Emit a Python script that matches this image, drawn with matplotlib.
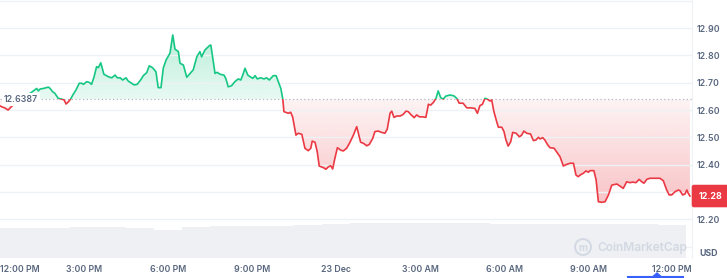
import numpy as np
import matplotlib
matplotlib.use('Agg')
from matplotlib import pyplot as plt
from matplotlib.path import Path
from matplotlib.patches import Rectangle, Ellipse, Polygon
from matplotlib.lines import Line2D
from matplotlib.colors import to_rgb

plt.rcParams['font.family'] = ['Inter', 'DejaVu Sans']

# hours since 12:00 PM, 22 Dec
hours = [0.00, 0.06, 0.18, 0.29, 0.50, 0.71, 0.93, 1.14, 1.31, 1.37, 1.43, 1.55, 1.73, 1.79,
         1.88, 1.96, 2.08, 2.20, 2.29, 2.36, 2.44, 2.52, 2.60, 2.71, 2.83, 2.92, 2.98, 3.10,
         3.19, 3.27, 3.36, 3.45, 3.51, 3.60, 3.67, 3.71, 3.87, 3.99, 4.11, 4.19, 4.29, 4.38,
         4.50, 4.58, 4.70, 4.79, 4.90, 5.02, 5.12, 5.24, 5.33, 5.45, 5.57, 5.65, 5.75, 5.83,
         5.93, 6.07, 6.17, 6.25, 6.37, 6.43, 6.55, 6.67, 6.79, 6.90, 7.03, 7.14, 7.20, 7.32,
         7.48, 7.53, 7.62, 7.68, 7.76, 7.86, 8.00, 8.07, 8.15, 8.27, 8.39, 8.51, 8.60, 8.67,
         8.75, 8.85, 8.93, 9.03, 9.11, 9.19, 9.31, 9.43, 9.52, 9.62, 9.76, 9.86, 9.94, 10.03,
         10.10, 10.14, 10.30, 10.38, 10.45, 10.57, 10.65, 10.78, 10.89, 11.01, 11.10, 11.15,
         11.25, 11.33, 11.40, 11.55, 11.64, 11.73, 11.81, 11.88, 11.96, 12.05, 12.17, 12.26,
         12.38, 12.50, 12.62, 12.74, 12.80, 12.88, 12.98, 13.10, 13.19, 13.31, 13.39, 13.51,
         13.63, 13.75, 13.83, 13.93, 13.99, 14.07, 14.17, 14.29, 14.40, 14.50, 14.58, 14.67,
         14.79, 14.88, 14.98, 15.10, 15.21, 15.30, 15.38, 15.48, 15.57, 15.65, 15.74, 15.83,
         15.92, 16.07, 16.21, 16.31, 16.40, 16.54, 16.67, 16.81, 16.96, 17.05, 17.14, 17.23,
         17.32, 17.40, 17.50, 17.56, 17.64, 17.74, 17.80, 17.92, 18.00, 18.07, 18.15, 18.24,
         18.31, 18.43, 18.55, 18.63, 18.71, 18.81, 18.95, 19.05, 19.14, 19.23, 19.29, 19.38,
         19.46, 19.55, 19.64, 19.79, 19.88, 20.00, 20.12, 20.24, 20.36, 20.48, 20.57, 20.65,
         20.75, 20.83, 20.93, 21.01, 21.07, 21.21, 21.29, 21.37, 21.49, 21.61, 21.73, 21.85,
         22.03, 22.17, 22.26, 22.38, 22.50, 22.60, 22.71, 22.83, 22.92, 23.00, 23.10, 23.21,
         23.39, 23.57, 23.69, 23.81, 23.90, 23.99, 24.11, 24.23, 24.29, 24.38, 24.46, 24.53,
         24.58, 24.64]
price = [12.615, 12.612, 12.607, 12.600, 12.622, 12.637, 12.651, 12.666, 12.679, 12.670, 12.677,
         12.679, 12.684, 12.679, 12.667, 12.661, 12.643, 12.640, 12.637, 12.622, 12.630, 12.640,
         12.655, 12.673, 12.698, 12.698, 12.694, 12.704, 12.701, 12.694, 12.722, 12.759, 12.755,
         12.773, 12.747, 12.731, 12.722, 12.718, 12.728, 12.718, 12.718, 12.710, 12.718, 12.706,
         12.698, 12.692, 12.694, 12.710, 12.726, 12.737, 12.762, 12.755, 12.740, 12.682, 12.682,
         12.753, 12.783, 12.808, 12.875, 12.823, 12.814, 12.771, 12.765, 12.720, 12.734, 12.747,
         12.795, 12.814, 12.795, 12.820, 12.836, 12.838, 12.777, 12.734, 12.738, 12.731, 12.728,
         12.714, 12.685, 12.689, 12.704, 12.714, 12.710, 12.728, 12.753, 12.728, 12.722, 12.716,
         12.726, 12.714, 12.718, 12.714, 12.718, 12.710, 12.726, 12.726, 12.704, 12.679, 12.640,
         12.594, 12.588, 12.592, 12.575, 12.508, 12.515, 12.511, 12.460, 12.451, 12.460, 12.486,
         12.482, 12.447, 12.395, 12.389, 12.383, 12.392, 12.396, 12.384, 12.423, 12.462, 12.453,
         12.450, 12.460, 12.482, 12.508, 12.539, 12.515, 12.482, 12.478, 12.469, 12.474, 12.496,
         12.521, 12.523, 12.518, 12.515, 12.530, 12.588, 12.596, 12.573, 12.578, 12.578, 12.584,
         12.596, 12.594, 12.584, 12.572, 12.582, 12.575, 12.575, 12.573, 12.621, 12.618, 12.628,
         12.643, 12.670, 12.645, 12.640, 12.651, 12.655, 12.652, 12.643, 12.625, 12.625, 12.608,
         12.608, 12.606, 12.588, 12.616, 12.621, 12.643, 12.640, 12.633, 12.637, 12.594, 12.557,
         12.537, 12.537, 12.521, 12.490, 12.468, 12.484, 12.518, 12.515, 12.502, 12.508, 12.523,
         12.515, 12.512, 12.488, 12.490, 12.500, 12.494, 12.499, 12.490, 12.474, 12.462, 12.460,
         12.447, 12.429, 12.395, 12.401, 12.405, 12.405, 12.362, 12.356, 12.364, 12.368, 12.377,
         12.372, 12.378, 12.378, 12.344, 12.264, 12.262, 12.264, 12.289, 12.325, 12.329, 12.319,
         12.313, 12.337, 12.334, 12.336, 12.334, 12.346, 12.337, 12.332, 12.346, 12.350, 12.350,
         12.350, 12.341, 12.307, 12.289, 12.289, 12.301, 12.307, 12.304, 12.289, 12.292, 12.307,
         12.295, 12.285]

vol_hours = list(range(25))
volume = [30, 30, 30.5, 31, 31, 30, 28.5, 31, 32, 32.5, 32.5, 33, 34, 35, 35, 35.5, 35.5,
          35, 34.5, 34.5, 34.5, 34, 34, 34, 33]

base_price = 12.6387
last_price = 12.28
tick_hours = [0, 3, 6, 9, 12, 15, 18, 21, 24]
tick_labels = ['12:00 PM', '3:00 PM', '6:00 PM', '9:00 PM', '23 Dec',
               '3:00 AM', '6:00 AM', '9:00 AM', '12:00 PM']
y_grid = [12.1, 12.2, 12.3, 12.4, 12.5, 12.6, 12.7, 12.8, 12.9, 13.0]
y_labels = ['', '12.20', '', '12.40', '12.50', '12.60', '12.70', '12.80', '12.90', '']

GREEN = '#16c784'
RED = '#ea3943'
GREY = '#58667e'
XMAX = 692 / 28
YMIN, YMAX = 12.058, 13.003

fig = plt.figure(figsize=(7.27, 2.78), dpi=100)
ax = fig.add_axes([0, 20 / 278, 692 / 727, 258 / 278])

# volume on a twin axis (drawn above the price grid, below nothing else)
ax2 = ax.twinx()
ax2.bar(vol_hours, volume, width=1.0, color='#eef0f4', edgecolor='none', zorder=1)
ax2.set_ylim(0, 258)
ax2.set_yticks([])
for s in ax2.spines.values():
    s.set_visible(False)

ax.set_xlim(0, XMAX)
ax.set_ylim(YMIN, YMAX)

t = np.array(hours)
p = np.array(price)


def gradient_fill(where, color, y0, y1, a0, a1):
    # fill between line and base price with a vertical alpha gradient
    coll = ax.fill_between(t, p, base_price, where=where, interpolate=True,
                           facecolor='none', edgecolor='none')
    clip = Path.make_compound_path(*coll.get_paths())
    img = np.zeros((256, 1, 4))
    img[:, 0, :3] = to_rgb(color)
    img[:, 0, 3] = np.linspace(a0, a1, 256)
    im = ax.imshow(img, extent=[0, XMAX, y0, y1], origin='lower', aspect='auto',
                   interpolation='bilinear', zorder=1)
    im.set_clip_path(clip, transform=ax.transData)


gradient_fill(p >= base_price, GREEN, base_price, 12.88, 0.10, 0.30)
gradient_fill(p <= base_price, RED, 12.26, base_price, 0.30, 0.06)
ax.set_xlim(0, XMAX)
ax.set_ylim(YMIN, YMAX)

gl, = ax.plot(t, p, color=GREEN, lw=1.2, zorder=3, solid_joinstyle='round')
gl.set_clip_path(Rectangle((0, base_price), XMAX, 2, transform=ax.transData))
rl, = ax.plot(t, p, color=RED, lw=1.2, zorder=3, solid_joinstyle='round')
rl.set_clip_path(Rectangle((0, 11), XMAX, base_price - 11, transform=ax.transData))

ax.axhline(base_price, color='#b1b8c6', ls=(0, (1, 2)), lw=0.9, zorder=2)
ax.text(4 / 692, base_price, '12.6387', transform=ax.get_yaxis_transform(),
        ha='left', va='center', fontsize=6.3, color=GREY, fontweight='semibold', zorder=4,
        bbox=dict(facecolor='white', edgecolor='none', pad=1.2))

ax.set_yticks(y_grid)
ax.set_yticklabels(y_labels)
ax.yaxis.tick_right()
ax.tick_params(axis='y', length=0, pad=3, labelsize=6.3, labelcolor=GREY,
               labelleft=False, labelright=True)
for lab in ax.yaxis.get_ticklabels(which='major'):
    lab.set_fontweight('semibold')
for tk in ax.yaxis.get_major_ticks():
    tk.label2.set_fontweight('semibold')
ax.grid(axis='y', color='#eff2f5', lw=1)
ax.set_xticks(tick_hours)
ax.set_xticklabels(tick_labels)
ax.tick_params(axis='x', length=0, pad=5, labelsize=6.3, labelcolor=GREY)
for lab in ax.get_xticklabels():
    lab.set_fontweight('semibold')
ax.get_xticklabels()[0].set_horizontalalignment('left')
for s in ['top', 'left', 'bottom']:
    ax.spines[s].set_visible(False)
ax.spines['right'].set_color('#eff2f5')

ax.text(1.0265, 12.285, '12.28', transform=ax.get_yaxis_transform(), ha='center', va='center',
        fontsize=6.5, color='white', fontweight='bold', zorder=5, clip_on=False,
        bbox=dict(boxstyle='round,pad=0.75,rounding_size=0.25', facecolor=RED, edgecolor='none'))
ax.text(1.0245, 5 / 258, 'USD', transform=ax.transAxes, ha='center', va='center',
        fontsize=6.3, color=GREY, fontweight='bold')

# watermark
fig.add_artist(Ellipse((583 / 727, 1 - 247 / 278), 16 / 727, 16 / 278, transform=fig.transFigure,
                       facecolor='none', edgecolor='#d3d9e3', lw=1.4))
fig.text(583 / 727, 1 - 248 / 278, 'm', ha='center', va='center', fontsize=7,
         color='#d3d9e3', fontweight='bold')
fig.text(597 / 727, 1 - 248 / 278, 'CoinMarketCap', ha='left', va='center', fontsize=8.6,
         color='#d3d9e3', fontweight='semibold')

# time range indicator
fig.add_artist(Line2D([628 / 727, 683 / 727], [1.2 / 278, 1.2 / 278], transform=fig.transFigure,
                      color='#3861fb', lw=1.5))
fig.add_artist(Polygon([[653 / 727, 1.5 / 278], [661 / 727, 1.5 / 278], [657 / 727, 5 / 278]],
                       closed=True, transform=fig.transFigure, color='#3861fb'))

fig.savefig('out.png', dpi=100)
